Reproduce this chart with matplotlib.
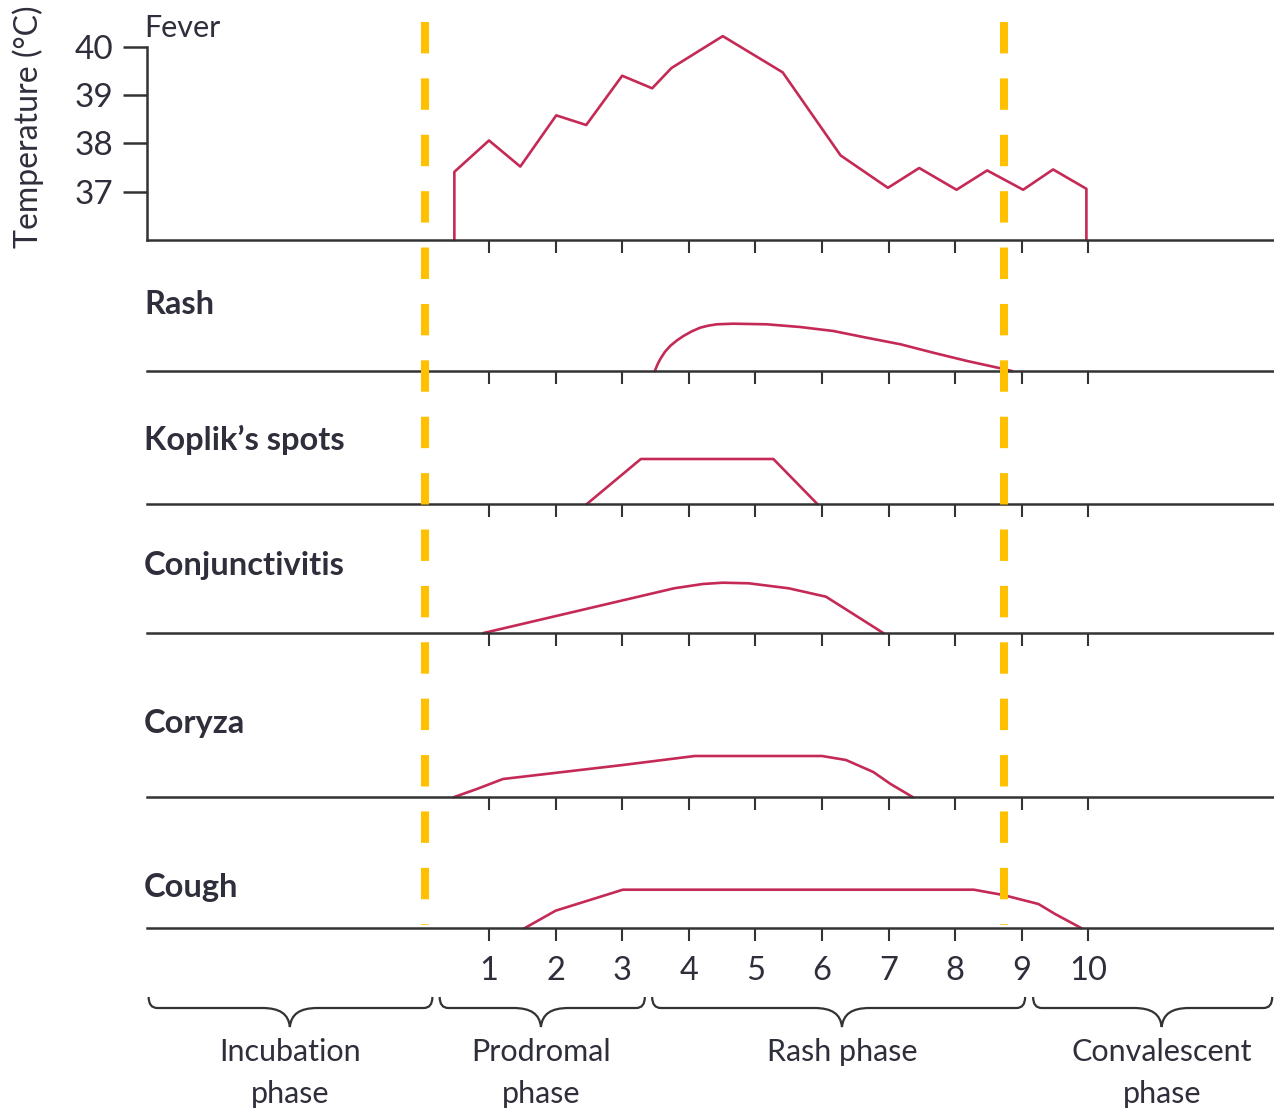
import numpy as np
import matplotlib.pyplot as plt
from matplotlib.path import Path
from matplotlib.patches import PathPatch
from matplotlib.transforms import blended_transform_factory

plt.rcParams['font.family'] = ['Lato', 'DejaVu Sans']

# --- data ---
day_ticks = [1, 2, 3, 4, 5, 6, 7, 8, 9, 10]
temp_ticks = [37, 38, 39, 40]

fever_day = [0.48, 0.48, 1.0, 1.47, 2.01, 2.46, 3.0, 3.45, 3.74, 4.51, 5.41,
             6.28, 6.99, 7.46, 8.02, 8.48, 9.02, 9.47, 9.97, 9.97]
fever_temp = [36.0, 37.41, 38.06, 37.52, 38.58, 38.38, 39.40, 39.14, 39.56, 40.22,
              39.47, 37.75, 37.08, 37.49, 37.04, 37.44, 37.04, 37.46, 37.06, 36.0]

rash_day = [3.49, 3.53, 3.57, 3.64, 3.72, 3.82, 3.92, 4.04, 4.17, 4.29, 4.42, 4.67,
            5.17, 5.67, 6.17, 6.67, 7.18, 7.67, 8.18, 8.68, 8.85]
rash_level = [0, 6.5, 11.7, 19, 25, 30.5, 35, 39.5, 43.3, 45.3, 46.7, 47.3,
              46.7, 44, 40, 33.3, 26.7, 18.3, 10, 2.7, 0]

koplik_day = [2.47, 3.28, 5.27, 5.93]
koplik_level = [0, 45, 45, 0]

conj_day = [0.92, 3.78, 4.21, 4.51, 4.90, 5.50, 6.06, 6.92]
conj_level = [0, 44.7, 49, 50.3, 49.7, 44.7, 36.3, 0]

coryza_day = [0.48, 0.83, 1.21, 3.01, 4.09, 6.0, 6.36, 6.77, 7.03, 7.36]
coryza_level = [0, 8.3, 18, 32, 41, 41, 37, 25, 13, 0]

cough_day = [1.54, 2.0, 3.01, 8.28, 8.72, 9.25, 9.5, 9.89]
cough_level = [0, 17.3, 38.3, 38.3, 33, 24, 14, 0]

symptom_names = ['Rash', 'Koplik\u2019s spots', 'Conjunctivitis', 'Coryza', 'Cough']
symptom_days = [rash_day, koplik_day, conj_day, coryza_day, cough_day]
symptom_levels = [rash_level, koplik_level, conj_level, coryza_level, cough_level]

phase_split_days = [0.04, 8.73]
phase_labels = ['Incubation\nphase', 'Prodromal\nphase', 'Rash phase', 'Convalescent\nphase']
phase_start = [-4.11, 0.26, 3.45, 9.17]
phase_end = [0.15, 3.34, 9.05, 12.76]
phase_center = [-1.99, 1.78, 6.30, 11.10]

# --- layout (pixels) ---
W, H = 1274, 1114
x_lo, x_hi = -4.135, 12.787
baselines = [371, 504, 633, 797, 928]
title_y = [305, 440, 566, 723, 887]

line_col = '#C42A55'
ax_col = '#333333'
txt_col = '#2F2F3C'
orange = '#FFC000'


def px_rect(left, top, right, bottom):
    return [left / W, 1 - bottom / H, (right - left) / W, (bottom - top) / H]


fig = plt.figure(figsize=(W / 100, H / 100), dpi=100)

# fever panel
ax = fig.add_axes(px_rect(147, 22.6, 1274, 240))
ax.plot(fever_day, fever_temp, color=line_col, lw=1.9, clip_on=False)
ax.set_xlim(x_lo, x_hi)
ax.set_ylim(36, 40.5)
ax.spines[['top', 'right']].set_visible(False)
ax.spines['left'].set_bounds(36, 40)
for s in ('left', 'bottom'):
    ax.spines[s].set_linewidth(1.8)
    ax.spines[s].set_color(ax_col)
ax.set_yticks(temp_ticks)
ax.set_xticks(day_ticks)
ax.tick_params(axis='y', length=17, width=1.8, pad=7, labelsize=24,
               color=ax_col, labelcolor=txt_col)
ax.tick_params(axis='x', length=9, width=1.5, color=ax_col, labelbottom=False)
fig.text(28 / W, 1 - 127 / H, 'Temperature (\u00b0C)', rotation=90, fontsize=23,
         ha='center', va='center', color=txt_col)
fig.text(144 / W, 1 - 28 / H, 'Fever', fontsize=22, va='center', color=txt_col)

# symptom panels
for i, name in enumerate(symptom_names):
    base = baselines[i]
    sa = fig.add_axes(px_rect(147, base - 100, 1274, base))
    sa.patch.set_alpha(0)
    sa.plot(symptom_days[i], symptom_levels[i], color=line_col, lw=1.9, clip_on=False)
    sa.set_xlim(x_lo, x_hi)
    sa.set_ylim(0, 100)
    sa.spines[['top', 'right', 'left']].set_visible(False)
    sa.spines['bottom'].set_linewidth(1.8)
    sa.spines['bottom'].set_color(ax_col)
    sa.set_yticks([])
    sa.set_xticks(day_ticks)
    last = i == len(symptom_names) - 1
    sa.tick_params(axis='x', length=9, width=1.5, color=ax_col, labelbottom=last,
                   labelsize=23.5, labelcolor=txt_col, pad=11)
    fig.text(144 / W, 1 - title_y[i] / H, name, fontsize=23.5, fontweight='bold',
             va='center', color=txt_col)

# phase boundaries
ov = fig.add_axes(px_rect(147, 22, 1274, 925))
ov.set_xlim(x_lo, x_hi)
ov.set_ylim(0, 1)
ov.axis('off')
for d in phase_split_days:
    ov.plot([d, d], [1, 0], color=orange, lw=5.8, dashes=(3.9, 3.1))

# braces and phase names
bx = fig.add_axes(px_rect(147, 990, 1274, 1030))
bx.set_xlim(x_lo, x_hi)
bx.set_ylim(40, 0)
bx.axis('off')
trans = blended_transform_factory(bx.transData, fig.transFigure)
hook, arm = 0.13, 0.42
for lab, x0, x1, xc in zip(phase_labels, phase_start, phase_end, phase_center):
    verts = [(x0, 7), (x0, 18), (x0 + hook, 18), (xc - arm, 18),
             (xc - 0.35 * arm, 18), (xc - 0.05 * arm, 24), (xc, 37),
             (xc + 0.05 * arm, 24), (xc + 0.35 * arm, 18), (xc + arm, 18),
             (x1 - hook, 18), (x1, 18), (x1, 7)]
    codes = [Path.MOVETO, Path.CURVE3, Path.CURVE3, Path.LINETO,
             Path.CURVE4, Path.CURVE4, Path.CURVE4, Path.CURVE4, Path.CURVE4, Path.CURVE4,
             Path.LINETO, Path.CURVE3, Path.CURVE3]
    bx.add_patch(PathPatch(Path(verts, codes), fill=False, lw=1.6, edgecolor=ax_col,
                           clip_on=False))
    fig.text(xc, 1 - 1038 / H, lab, transform=trans, fontsize=22, ha='center',
             va='top', linespacing=1.62, color=txt_col)

fig.savefig('out.png', dpi=100)
